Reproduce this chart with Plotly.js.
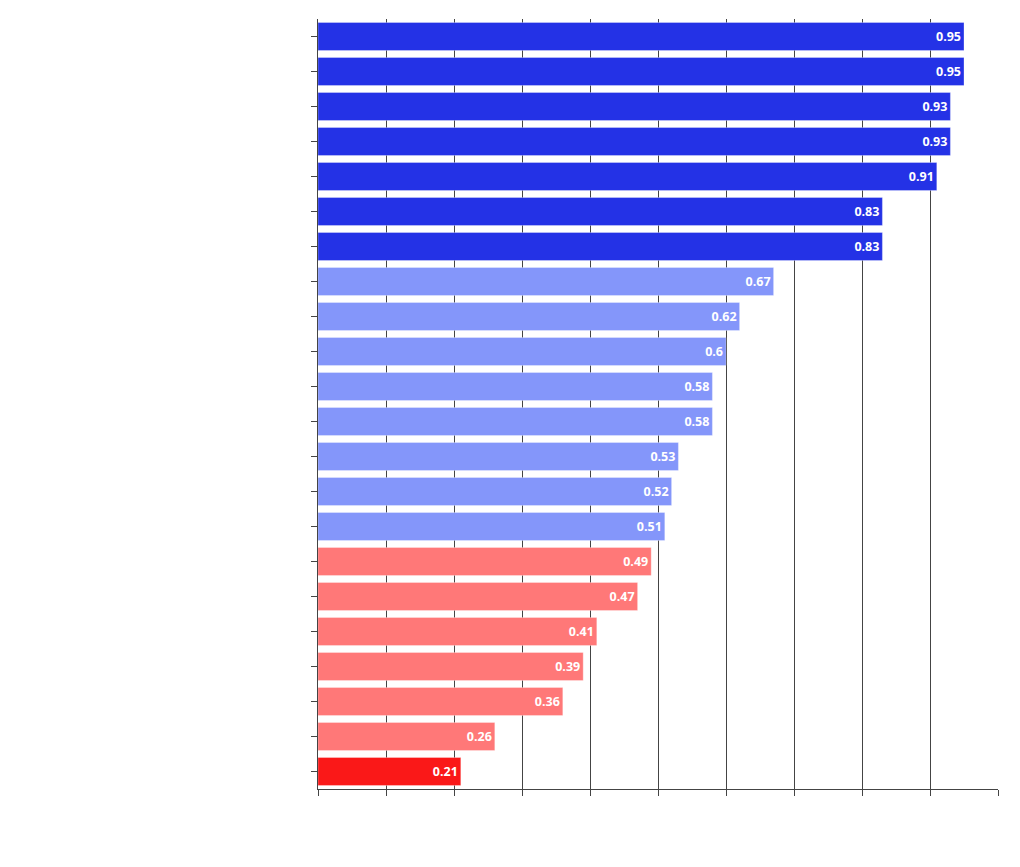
<!DOCTYPE html>
<html>
<head>
<meta charset="utf-8">
<script src="https://cdn.plot.ly/plotly-3.0.1.min.js"></script>
<style>html,body{margin:0;padding:0;background:#fff;}#chart{width:1020px;height:867px;}</style>
</head>
<body>
<div id="chart"></div>
<script>
var categories = ["c01","c02","c03","c04","c05","c06","c07","c08","c09","c10","c11","c12","c13","c14","c15","c16","c17","c18","c19","c20","c21","c22"];
var values = [0.95,0.95,0.93,0.93,0.91,0.83,0.83,0.67,0.62,0.6,0.58,0.58,0.53,0.52,0.51,0.49,0.47,0.41,0.39,0.36,0.26,0.21];
var xTicks = [0,0.1,0.2,0.3,0.4,0.5,0.6,0.7,0.8,0.9,1.0];

function colorFor(v){
  if (v >= 0.8) return "rgb(36,50,230)";
  if (v >= 0.5) return "rgb(132,150,250)";
  if (v >= 0.25) return "rgb(255,120,120)";
  return "rgb(250,24,24)";
}
var colors = values.map(colorFor);

var trace = {
  type: "bar",
  orientation: "h",
  y: categories,
  x: values,
  text: values.map(function(v){return String(v);}),
  textposition: "inside",
  insidetextanchor: "end",
  textfont: {color: "#ffffff", size: 12.5, family: "Open Sans", weight: "bold"},
  marker: {color: colors, line: {color: "rgba(255,255,255,0.3)", width: 1}},
  hoverinfo: "x+y"
};

var layout = {
  width: 1020,
  height: 867,
  margin: {l: 318, r: 22, t: 19, b: 78},
  paper_bgcolor: "#ffffff",
  plot_bgcolor: "#ffffff",
  showlegend: false,
  bargap: 0.2,
  xaxis: {
    range: [0, 1],
    tickvals: xTicks,
    showticklabels: false,
    ticks: "outside",
    ticklen: 6,
    tickcolor: "#444",
    showgrid: true,
    gridcolor: "#444",
    gridwidth: 1,
    showline: true,
    linecolor: "#444",
    linewidth: 1,
    zeroline: false,
    fixedrange: true
  },
  yaxis: {
    autorange: "reversed",
    showticklabels: false,
    ticks: "outside",
    ticklen: 6,
    tickcolor: "#444",
    showgrid: false,
    showline: true,
    linecolor: "#444",
    linewidth: 1,
    fixedrange: true
  }
};

Plotly.newPlot("chart", [trace], layout, {displayModeBar: false, staticPlot: true});
</script>
</body>
</html>
